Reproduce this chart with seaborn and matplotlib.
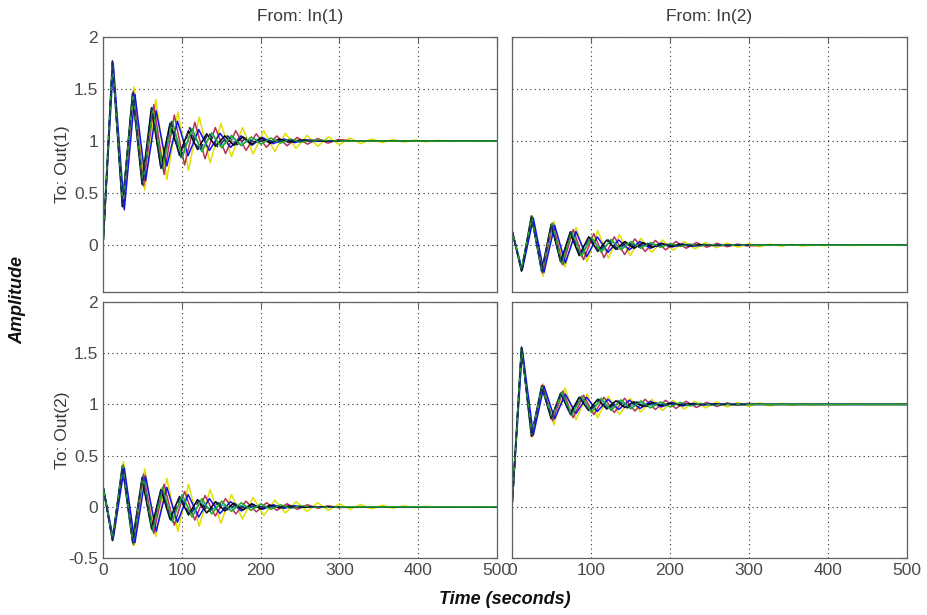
"""Step response of an uncertain 2x2 system (MATLAB-style grid of responses)."""

import numpy as np
import pandas as pd
import matplotlib
matplotlib.use('Agg')
import matplotlib.pyplot as plt
import seaborn as sns

# extremum times (s) of each response, shared by the four I/O channels
T_NOM = [0, 12, 25, 38, 50, 62, 74, 86, 98, 110, 122, 134, 146, 158, 170, 182, 194, 206, 218, 230, 260, 300]
T_BLK = [0, 12, 24.5, 37.5, 49.5, 61.5, 73.5, 85, 97, 108.5, 120, 131.5, 143, 154.5, 166, 177.5, 189,
         200.5, 212, 223.5, 235, 250, 280, 500]
T_GRN = [0, 12, 25, 38, 50.5, 63, 75.5, 88, 100.5, 113, 125.5, 138, 150.5, 163, 175.5, 188, 200.5,
         213, 225.5, 238, 250.5, 270, 300, 500]
T_BLU = [0, 13, 27, 40.5, 54, 67.5, 81, 94.5, 108, 121.5, 135, 148.5, 162, 175.5, 189, 202.5, 216,
         229.5, 243, 256.5, 280, 500]
T_RED = [0, 12.5, 25.5, 38.5, 51.5, 64.5, 77.5, 90.5, 103.5, 116.5, 129.5, 142.5, 155.5, 168.5,
         181.5, 194.5, 207.5, 220.5, 233.5, 246.5, 259.5, 272.5, 285.5, 298.5, 320, 500]
T_YEL = [0, 12.5, 26, 39.5, 53, 67, 81, 95, 108.5, 122, 136, 149.5, 163, 177, 190.5, 204, 218, 231.5,
         245, 259, 272.5, 286, 300, 313.5, 327, 341, 354.5, 368, 382, 395.5, 409, 423, 450, 500]
T_CYN = [0, 12, 25, 37.5, 50, 62.5, 75, 87.5, 100, 112.5, 125, 137.5, 150, 162.5, 175, 190, 220, 500]

# amplitudes at those times, channel In(1) -> Out(1)
A_NOM = [0, 1.76, 0.38, 1.46, 0.58, 1.32, 0.72, 1.20, 0.83, 1.13, 0.90, 1.08, 0.94, 1.05, 0.965, 1.03,
         0.98, 1.015, 0.99, 1.008, 1.0, 1.0]
A_BLK = [0, 1.77, 0.37, 1.46, 0.59, 1.32, 0.74, 1.17, 0.87, 1.10, 0.92, 1.07, 0.95, 1.05, 0.96, 1.04,
         0.97, 1.03, 0.98, 1.02, 0.99, 1.01, 1.0, 1.0]
A_GRN = [0, 1.75, 0.40, 1.45, 0.60, 1.31, 0.73, 1.19, 0.84, 1.12, 0.90, 1.08, 0.935, 1.055, 0.955,
         1.04, 0.97, 1.03, 0.98, 1.02, 0.99, 1.01, 1.0, 1.0]
A_BLU = [0, 1.74, 0.34, 1.45, 0.62, 1.29, 0.76, 1.19, 0.86, 1.11, 0.91, 1.075, 0.94, 1.05, 0.96,
         1.035, 0.975, 1.02, 0.985, 1.01, 1.0, 1.0]
A_RED = [0, 1.75, 0.37, 1.48, 0.57, 1.35, 0.68, 1.25, 0.77, 1.18, 0.83, 1.13, 0.88, 1.10, 0.91, 1.07,
         0.94, 1.05, 0.955, 1.035, 0.97, 1.025, 0.98, 1.015, 1.0, 1.0]
A_YEL = [0, 1.74, 0.36, 1.52, 0.53, 1.40, 0.63, 1.28, 0.72, 1.23, 0.79, 1.17, 0.85, 1.13, 0.875, 1.10,
         0.90, 1.075, 0.93, 1.055, 0.95, 1.04, 0.965, 1.03, 0.975, 1.02, 0.985, 1.015, 0.99, 1.01,
         0.993, 1.006, 1.0, 1.0]
A_CYN = [0, 1.75, 0.39, 1.45, 0.60, 1.30, 0.74, 1.18, 0.85, 1.11, 0.91, 1.07, 0.95, 1.04, 0.97, 1.02,
         1.0, 1.0]

# channel In(2) -> Out(1)
B_NOM = [0.14, -0.24, 0.27, -0.25, 0.20, -0.17, 0.13, -0.10, 0.08, -0.065, 0.05, -0.04, 0.03, -0.025,
         0.02, -0.015, 0.01, -0.008, 0.005, -0.003, 0, 0]
B_BLK = [0.14, -0.25, 0.28, -0.25, 0.20, -0.16, 0.12, -0.10, 0.08, -0.06, 0.05, -0.04, 0.035, -0.03,
         0.025, -0.02, 0.015, -0.012, 0.01, -0.008, 0.005, 0, 0, 0]
B_GRN = [0.14, -0.23, 0.27, -0.26, 0.21, -0.18, 0.13, -0.11, 0.08, -0.07, 0.055, -0.045, 0.035, -0.03,
         0.025, -0.02, 0.015, -0.012, 0.01, -0.008, 0.005, 0, 0, 0]
B_BLU = [0.14, -0.24, 0.26, -0.26, 0.19, -0.17, 0.13, -0.11, 0.08, -0.07, 0.05, -0.045, 0.035, -0.03,
         0.02, -0.018, 0.012, -0.01, 0.006, -0.004, 0, 0]
B_RED = [0.14, -0.24, 0.27, -0.27, 0.21, -0.19, 0.15, -0.14, 0.11, -0.12, 0.08, -0.09, 0.06, -0.06,
         0.045, -0.045, 0.035, -0.03, 0.025, -0.02, 0.018, -0.015, 0.01, -0.008, 0, 0]
B_YEL = [0.14, -0.24, 0.28, -0.30, 0.23, -0.21, 0.17, -0.16, 0.14, -0.125, 0.10, -0.10, 0.065, -0.07,
         0.05, -0.05, 0.035, -0.035, 0.025, -0.025, 0.02, -0.02, 0.015, -0.015, 0.01, -0.01, 0.008,
         -0.008, 0.005, -0.005, 0.003, -0.003, 0, 0]
B_CYN = [0.14, -0.24, 0.27, -0.25, 0.19, -0.16, 0.12, -0.09, 0.07, -0.05, 0.04, -0.03, 0.02, -0.015,
         0.01, -0.005, 0, 0]

# channel In(1) -> Out(2)
C_NOM = [0.2, -0.32, 0.39, -0.35, 0.29, -0.22, 0.18, -0.13, 0.10, -0.08, 0.06, -0.05, 0.04, -0.03,
         0.025, -0.02, 0.015, -0.01, 0.007, -0.004, 0, 0]
C_BLK = [0.2, -0.33, 0.40, -0.34, 0.28, -0.21, 0.17, -0.12, 0.10, -0.08, 0.07, -0.06, 0.05, -0.04,
         0.035, -0.03, 0.025, -0.02, 0.015, -0.01, 0.008, -0.005, 0, 0]
C_GRN = [0.2, -0.31, 0.40, -0.36, 0.30, -0.24, 0.19, -0.15, 0.12, -0.10, 0.08, -0.07, 0.055, -0.045,
         0.04, -0.035, 0.03, -0.025, 0.02, -0.015, 0.01, -0.005, 0, 0]
C_BLU = [0.2, -0.31, 0.38, -0.35, 0.30, -0.24, 0.19, -0.15, 0.12, -0.10, 0.08, -0.065, 0.05, -0.04,
         0.03, -0.025, 0.02, -0.015, 0.01, -0.005, 0, 0]
C_RED = [0.2, -0.32, 0.41, -0.37, 0.32, -0.26, 0.22, -0.18, 0.15, -0.13, 0.11, -0.09, 0.08, -0.07,
         0.055, -0.05, 0.04, -0.035, 0.03, -0.025, 0.02, -0.015, 0.01, -0.008, 0, 0]
C_YEL = [0.2, -0.33, 0.44, -0.38, 0.37, -0.29, 0.28, -0.24, 0.22, -0.19, 0.17, -0.16, 0.12, -0.12,
         0.09, -0.085, 0.065, -0.06, 0.05, -0.045, 0.04, -0.035, 0.03, -0.025, 0.022, -0.02, 0.016,
         -0.014, 0.01, -0.008, 0.005, -0.004, 0, 0]
C_CYN = [0.2, -0.32, 0.39, -0.34, 0.27, -0.20, 0.15, -0.11, 0.08, -0.06, 0.045, -0.035, 0.025, -0.02,
         0.012, -0.006, 0, 0]

# channel In(2) -> Out(2)
D_NOM = [0, 1.55, 0.70, 1.17, 0.87, 1.11, 0.90, 1.07, 0.93, 1.05, 0.95, 1.035, 0.965, 1.025, 0.98,
         1.015, 0.99, 1.008, 1.0, 1.0, 1.0, 1.0]
D_BLK = [0, 1.56, 0.69, 1.18, 0.86, 1.11, 0.91, 1.07, 0.94, 1.05, 0.955, 1.035, 0.97, 1.025, 0.98,
         1.015, 0.99, 1.01, 0.995, 1.005, 1.0, 1.0, 1.0, 1.0]
D_GRN = [0, 1.54, 0.71, 1.17, 0.87, 1.12, 0.89, 1.08, 0.92, 1.06, 0.94, 1.045, 0.955, 1.035, 0.965,
         1.025, 0.975, 1.02, 0.985, 1.01, 0.995, 1.0, 1.0, 1.0]
D_BLU = [0, 1.54, 0.70, 1.18, 0.86, 1.10, 0.91, 1.07, 0.93, 1.05, 0.95, 1.04, 0.96, 1.03, 0.975,
         1.02, 0.985, 1.01, 0.995, 1.005, 1.0, 1.0]
D_RED = [0, 1.55, 0.69, 1.19, 0.84, 1.13, 0.87, 1.09, 0.90, 1.07, 0.92, 1.06, 0.935, 1.05, 0.95,
         1.04, 0.96, 1.03, 0.97, 1.02, 0.98, 1.015, 0.99, 1.01, 1.0, 1.0]
D_YEL = [0, 1.53, 0.68, 1.20, 0.80, 1.16, 0.85, 1.10, 0.87, 1.08, 0.90, 1.06, 0.925, 1.05, 0.94,
         1.04, 0.955, 1.03, 0.965, 1.025, 0.975, 1.02, 0.98, 1.015, 0.985, 1.01, 0.99, 1.008, 0.993,
         1.005, 0.996, 1.003, 1.0, 1.0]
D_CYN = [0, 1.55, 0.70, 1.16, 0.88, 1.10, 0.92, 1.06, 0.95, 1.04, 0.965, 1.025, 0.98, 1.015, 0.99,
         1.005, 1.0, 1.0]

CURVES = ['yellow', 'red', 'cyan', 'blue', 'black', 'green', 'nominal']
TIMES = {'yellow': T_YEL, 'red': T_RED, 'cyan': T_CYN, 'blue': T_BLU,
         'black': T_BLK, 'green': T_GRN, 'nominal': T_NOM}
PANELS = {
    'A': {'yellow': A_YEL, 'red': A_RED, 'cyan': A_CYN, 'blue': A_BLU,
          'black': A_BLK, 'green': A_GRN, 'nominal': A_NOM},
    'B': {'yellow': B_YEL, 'red': B_RED, 'cyan': B_CYN, 'blue': B_BLU,
          'black': B_BLK, 'green': B_GRN, 'nominal': B_NOM},
    'C': {'yellow': C_YEL, 'red': C_RED, 'cyan': C_CYN, 'blue': C_BLU,
          'black': C_BLK, 'green': C_GRN, 'nominal': C_NOM},
    'D': {'yellow': D_YEL, 'red': D_RED, 'cyan': D_CYN, 'blue': D_BLU,
          'black': D_BLK, 'green': D_GRN, 'nominal': D_NOM},
}
COL_TITLES = ['From: In(1)', 'From: In(2)']
ROW_TITLES = ['To: Out(1)', 'To: Out(2)']
X_TICKS = [0, 100, 200, 300, 400, 500]

COLORS = {'yellow': '#e0e000', 'red': '#b8305a', 'cyan': '#20c8c8', 'blue': '#1010f0',
          'black': '#000000', 'green': '#2aa82a', 'nominal': '#1b2a66'}
DASHES = {c: '' for c in CURVES}
DASHES['nominal'] = (4, 2.5)

frames = []
for panel, vals in PANELS.items():
    for curve in CURVES:
        frames.append(pd.DataFrame({'panel': panel, 'curve': curve,
                                    't': TIMES[curve], 'y': vals[curve]}))
df = pd.concat(frames, ignore_index=True)

sns.set_theme(style='white')
plt.rcParams['font.family'] = ['Liberation Sans', 'DejaVu Sans']

fig = plt.figure(figsize=(9.27, 6.15), dpi=100)
W, H = 927, 615
cols = [(103, 497), (512, 907)]
rows = [(37, 292), (302, 558)]
ylims = [(-0.45, 2), (-0.5, 2)]
grey = '#4a4a4a'

for r, (top, bot) in enumerate(rows):
    for c, (left, right) in enumerate(cols):
        ax = fig.add_axes([left / W, 1 - bot / H, (right - left) / W, (bot - top) / H])
        panel = 'ABCD'[r * 2 + c]
        sub = df[df['panel'] == panel]
        sns.lineplot(data=sub, x='t', y='y', hue='curve', hue_order=CURVES, palette=COLORS,
                     style='curve', style_order=CURVES, dashes=DASHES, estimator=None,
                     sort=False, linewidth=1.1, legend=False, ax=ax)
        ax.set_xlim(0, 500)
        ax.set_ylim(*ylims[r])
        ax.set_xticks(X_TICKS)
        ax.set_yticks(np.arange(0, 2.01, 0.5) if r == 0 else np.arange(-0.5, 2.01, 0.5))
        ax.yaxis.set_major_formatter(matplotlib.ticker.FormatStrFormatter('%g'))
        ax.grid(True, linestyle=(0, (1, 3)), color='#303030', linewidth=0.8)
        ax.set_xlabel('')
        ax.set_ylabel('')
        for s in ax.spines.values():
            s.set_color('#606060')
            s.set_linewidth(0.9)
        ax.tick_params(direction='in', length=4, width=0.8, color='#606060', top=True, right=True,
                       labelsize=12.5, labelcolor=grey,
                       labelbottom=(r == 1), labelleft=(c == 0))

for c, (left, right) in enumerate(cols):
    fig.text((left + right) / 2 / W, 1 - 17 / H, COL_TITLES[c], ha='center', va='center',
             fontsize=12.5, color='#3a3a3a')
for r, (top, bot) in enumerate(rows):
    fig.text(62 / W, 1 - (top + bot) / 2 / H, ROW_TITLES[r], ha='center', va='center',
             rotation=90, fontsize=12.5, color='#3a3a3a')

fig.text(18 / W, 1 - 300 / H, 'Amplitude', ha='center', va='center', rotation=90,
         fontsize=13, fontstyle='italic', fontweight='bold', color='#111111')
fig.text(505 / W, 1 - 600 / H, 'Time (seconds)', ha='center', va='center',
         fontsize=13, fontstyle='italic', fontweight='bold', color='#111111')

fig.savefig('out.png', dpi=100)
